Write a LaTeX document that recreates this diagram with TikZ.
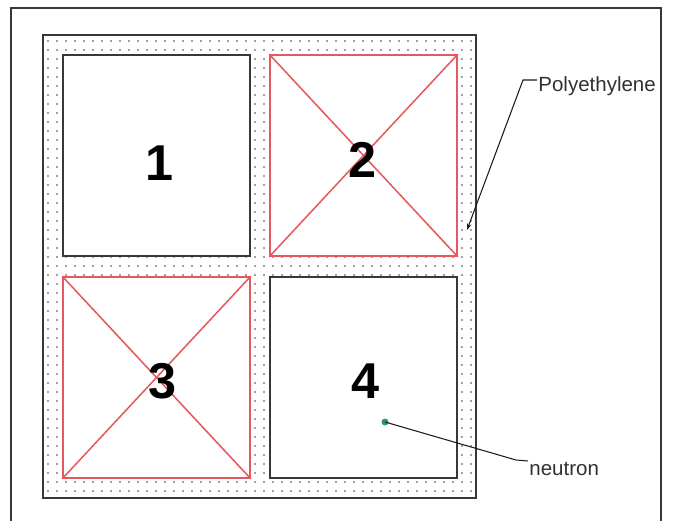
\documentclass[tikz,border=0pt]{standalone}
\usepackage{fontspec}
\setmainfont{Liberation Sans}
\usetikzlibrary{arrows.meta,positioning}
\definecolor{ink}{HTML}{1A1A1A}
\definecolor{frame}{HTML}{383838}
\definecolor{dotgray}{HTML}{404040}
\definecolor{crossred}{HTML}{E5585C}
\definecolor{neutrongreen}{HTML}{2E9A68}

\begin{document}
\begin{tikzpicture}[
  x=0.03cm, y=-0.03cm,
  cell/.style={draw=frame, line width=1.1pt, fill=white, minimum width=5.61cm, minimum height=6.03cm, inner sep=0pt},
  redcell/.style={cell, draw=crossred, line width=1.3pt},
  cross/.style={draw=crossred, line width=1.3pt},
  num/.style={font=\fontsize{43}{43}\selectfont\bfseries, text=black, inner sep=0pt},
  lbl/.style={font=\fontsize{17.5}{18}\selectfont, text=ink!90, inner sep=1pt},
  leader/.style={draw=ink, line width=0.9pt}
]
\useasboundingbox (0,0) rectangle (673,521);

% ---------- page frame ----------
\draw[frame, line width=1pt] (11,521) -- (11,8) -- (661,8) -- (661,521);

% ---------- polyethylene block ----------
\node[draw=frame, line width=1.4pt, minimum width=12.99cm, minimum height=13.89cm, inner sep=0pt] (poly) at (259.5,266.5) {};
\foreach \x in {48,57,...,472}
  \foreach \y in {41,50,...,494}
    \fill[dotgray] (\x,\y) circle[radius=0.75pt];

% ---------- cells ----------
\node[cell] (c1) at (156.5,155.5) {};
\node[redcell] (c2) at (363.5,155.5) {};
\node[redcell] (c3) at (156.5,377.5) {};
\node[cell] (c4) at (363.5,377.5) {};
\foreach \c in {c2,c3} {
  \draw[cross] (\c.north west) -- (\c.south east);
  \draw[cross] (\c.north east) -- (\c.south west);
}
\node[num] (n1) at (160,163) {1};
\node[num] (n2) at (363,160) {2};
\node[num] (n3) at (163,381) {3};
\node[num] (n4) at (366,381) {4};

% ---------- labels ----------
\node[lbl, anchor=west] (pe) at (537,86) {Polyethylene};
\coordinate (pebend) at (523,80);
\coordinate (pein) at (467,230);
\draw[leader, -{Stealth[length=2mm,width=1.4mm]}] (pe.west |- pebend) -- (pebend) -- (pein);

\fill[neutrongreen] (385,422) circle[radius=3.5] coordinate (nt);
\node[lbl, anchor=west] (nl) at (528,469) {neutron};
\coordinate (ntbend) at (516,460);
\draw[leader] (nl.west |- 0,461) -- (ntbend) -- (nt);
\end{tikzpicture}
\end{document}
